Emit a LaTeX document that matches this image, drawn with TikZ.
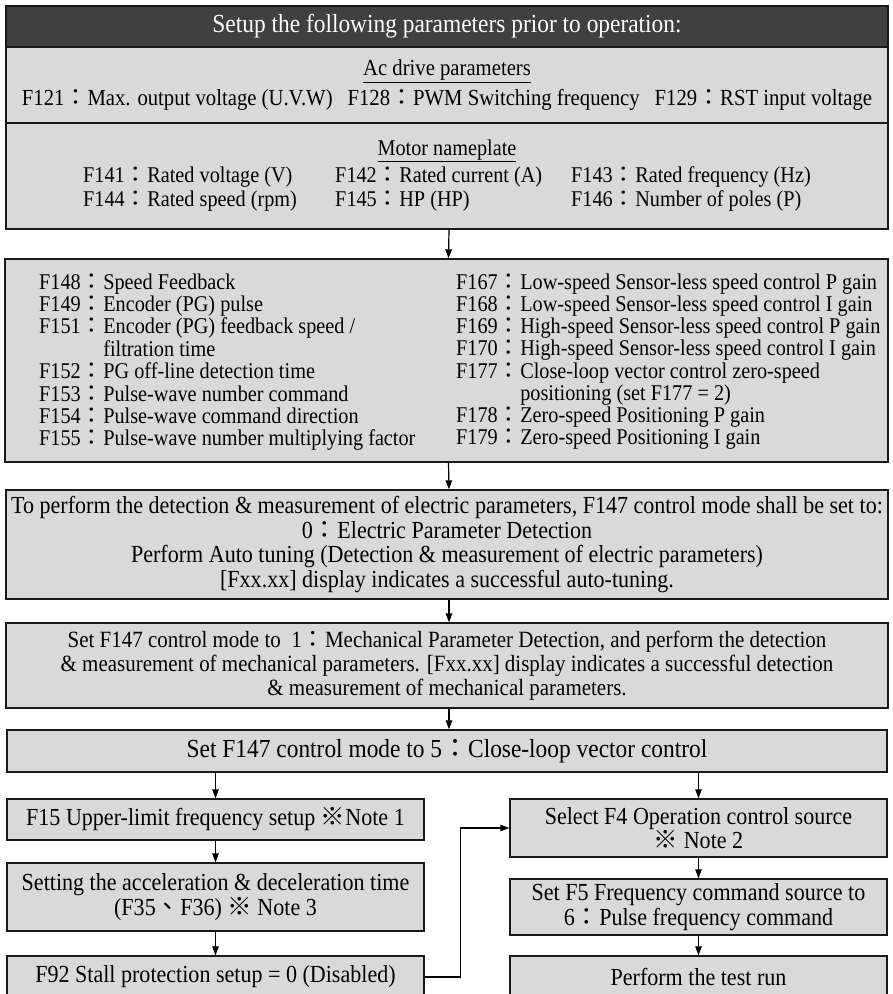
\documentclass[tikz,border=0pt]{standalone}
\usepackage{fontspec}
\setmainfont{Liberation Serif}[FakeStretch=0.9]
\newfontfamily\cjkfont{Noto Sans CJK TC}
\usetikzlibrary{arrows.meta}
\newcommand{\fc}{{\cjkfont ：}}
\newcommand{\kome}{{\cjkfont ※}}

\begin{document}
\begin{tikzpicture}[
	x=1pt, y=-1pt,
	font=\fontsize{22.5}{24.5}\selectfont,
	panel/.style={draw=black!90, fill=black!15, line width=1.4pt, inner sep=0pt, align=center},
	headbox/.style={panel, fill=black!75, text=white, font=\fontsize{26}{28}\selectfont},
	stepbox/.style={panel, font=\fontsize{24.5}{24.5}\selectfont},
	listing/.style={inner sep=0pt, anchor=base west, font=\fontsize{22.5}{22.2}\selectfont},
	arrow/.style={-{Triangle[length=9pt,width=6.5pt]}, line width=1.2pt, draw=black}
]
\useasboundingbox (0,0) rectangle (893,994);

% Parameters to set before operation.
\node[headbox, minimum width=882pt, minimum height=41pt] (setup) at (447,26.5) {Setup the following parameters prior to operation:};
\node[panel, font=\fontsize{23}{24.5}\selectfont, minimum width=882pt, minimum height=76pt] (acdrive) at (447,85) {\underline{Ac drive parameters}\\[5pt]
	F121\fc Max. output voltage (U.V.W)\hspace{15pt}F128\fc PWM Switching frequency\hspace{15pt}F129\fc RST input voltage};
\node[panel, minimum width=882pt, minimum height=106pt] (motor) at (447,176) {\fontsize{22.5}{23.5}\selectfont
	\begin{tabular}{@{}p{252pt}@{}p{236pt}@{}l@{}}
	\multicolumn{3}{@{}c@{}}{\underline{Motor nameplate}}\\[4pt]
	F141\fc Rated voltage (V) & F142\fc Rated current (A) & F143\fc Rated frequency (Hz)\\
	F144\fc Rated speed (rpm) & F145\fc HP (HP) & F146\fc Number of poles (P)
	\end{tabular}};

% Speed feedback and pulse parameters.
\node[panel, minimum width=883pt, minimum height=203pt] (feedback) at (446.5,360.5) {};
\node[listing] (fbleft) at (39,289) {\begin{tabular}[t]{@{}l@{}l@{}}
	F148\fc & Speed Feedback\\
	F149\fc & Encoder (PG) pulse\\
	F151\fc & Encoder (PG) feedback speed /\\
	& filtration time\\
	F152\fc & PG off-line detection time\\
	F153\fc & Pulse-wave number command\\
	F154\fc & Pulse-wave command direction\\
	F155\fc & Pulse-wave number multiplying factor
	\end{tabular}};
\node[listing] (fbright) at (456,289) {\begin{tabular}[t]{@{}l@{}l@{}}
	F167\fc & Low-speed Sensor-less speed control P gain\\
	F168\fc & Low-speed Sensor-less speed control I gain\\
	F169\fc & High-speed Sensor-less speed control P gain\\
	F170\fc & High-speed Sensor-less speed control I gain\\
	F177\fc & Close-loop vector control zero-speed\\
	& positioning (set F177 = 2)\\
	F178\fc & Zero-speed Positioning P gain\\
	F179\fc & Zero-speed Positioning I gain
	\end{tabular}};

% Auto tuning steps.
\node[panel, font=\fontsize{24.5}{24.5}\selectfont, minimum width=882pt, minimum height=109pt] (electric) at (447,544.5) {To perform the detection \& measurement of electric parameters, F147 control mode shall be set to:\\
	0\fc Electric Parameter Detection\\
	Perform Auto tuning (Detection \& measurement of electric parameters)\\
	{[}Fxx.xx{]} display indicates a successful auto-tuning.};
\node[panel, font=\fontsize{23.3}{24}\selectfont, minimum width=882pt, minimum height=85pt] (mechanic) at (447,665.5) {Set F147 control mode to\ \ 1\fc Mechanical Parameter Detection, and perform the detection\\
	\& measurement of mechanical parameters. {[}Fxx.xx{]} display indicates a successful detection\\
	\& measurement of mechanical parameters.};
\node[headbox, fill=black!15, text=black, minimum width=880pt, minimum height=42pt] (closeloop) at (447,751) {Set F147 control mode to 5\fc Close-loop vector control};

% Left branch.
\node[stepbox, minimum width=417pt, minimum height=41pt] (upper) at (215.5,819.5) {F15 Upper-limit frequency setup \kome Note 1};
\node[stepbox, minimum width=417pt, minimum height=68pt] (accel) at (215.5,897) {Setting the acceleration \& deceleration time\\ (F35{\cjkfont 、}F36) \kome\ Note 3};
\node[stepbox, minimum width=417pt, minimum height=42pt] (stall) at (215.5,977) {F92 Stall protection setup = 0 (Disabled)};

% Right branch.
\node[stepbox, minimum width=377pt, minimum height=58pt] (opsource) at (698.5,828) {Select F4 Operation control source\\ \kome\ Note 2};
\node[stepbox, minimum width=377pt, minimum height=56pt] (freqsource) at (698.5,907) {Set F5 Frequency command source to\\ 6\fc Pulse frequency command};
\node[stepbox, minimum width=377pt, minimum height=42pt] (testrun) at (698.5,977) {Perform the test run};

\draw[arrow] ([xshift=2pt]motor.south) -- ([xshift=2pt]feedback.north);
\draw[arrow] ([xshift=2pt]feedback.south) -- ([xshift=2pt]electric.north);
\draw[arrow] ([xshift=2pt]electric.south) -- ([xshift=2pt]mechanic.north);
\draw[arrow] ([xshift=2pt]mechanic.south) -- ([xshift=2pt]closeloop.north);
\draw[arrow] (closeloop.south -| upper.north) -- (upper.north);
\draw[arrow] (closeloop.south -| opsource.north) -- (opsource.north);
\draw[arrow] (upper) -- (accel);
\draw[arrow] (accel) -- (stall);
\draw[arrow] (opsource) -- (freqsource);
\draw[arrow] (freqsource) -- (testrun);
\draw[arrow] (stall.east) -- ++(36,0) |- (opsource.west);

\end{tikzpicture}
\end{document}
